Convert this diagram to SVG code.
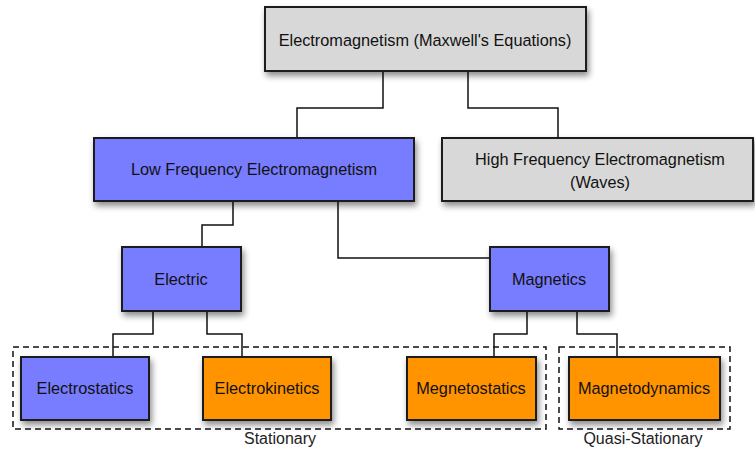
<svg xmlns="http://www.w3.org/2000/svg" width="755" height="450" viewBox="0 0 755 450">
<defs>
<filter id="sh" x="-20%" y="-20%" width="150%" height="160%">
<feDropShadow dx="2" dy="4" stdDeviation="3" flood-color="#000" flood-opacity="0.45"/>
</filter>
</defs>
<style>
.box{stroke:#1a1a1a;stroke-width:2;filter:url(#sh)}
.gray{fill:#d8d8d8}
.blue{fill:#787cfe}
.orange{fill:#ff9400}
.t{font-family:"Liberation Sans",Arial,sans-serif;font-size:16.3px;fill:#111;text-anchor:middle}
.lbl{font-family:"Liberation Sans",Arial,sans-serif;font-size:16px;fill:#222;text-anchor:middle}
.con{fill:none;stroke:#111;stroke-width:1.5}
.dash{fill:none;stroke:#111;stroke-width:1.5;stroke-dasharray:6 4}
</style>
<rect width="755" height="450" fill="#fff"/>
<g id="groups">
<rect class="dash" x="13" y="347" width="533" height="82"/>
<text class="lbl" x="280" y="444">Stationary</text>
<rect class="dash" x="559" y="347" width="171" height="82"/>
<text class="lbl" x="643" y="444">Quasi-Stationary</text>
</g>
<g id="connectors">
<polyline class="con" points="383,71 383,108 297,108 297,138"/>
<polyline class="con" points="468,71 468,108 558,108 558,138"/>
<polyline class="con" points="233,201 233,225 202,225 202,247"/>
<polyline class="con" points="338,201 338,258 490,258"/>
<polyline class="con" points="153,311 153,334 113,334 113,357"/>
<polyline class="con" points="207,311 207,334 242,334 242,357"/>
<polyline class="con" points="527,311 527,334 494,334 494,357"/>
<polyline class="con" points="577,311 577,334 617,334 617,357"/>
</g>
<g id="em">
<rect class="box gray" x="265" y="7" width="321" height="64"/>
<text class="t" x="425" y="46">Electromagnetism (Maxwell's Equations)</text>
</g>
<g id="lowfreq">
<rect class="box blue" x="94" y="138" width="320" height="63"/>
<text class="t" x="254" y="175">Low Frequency Electromagnetism</text>
</g>
<g id="highfreq">
<rect class="box gray" x="442" y="138" width="311" height="63"/>
<text class="t" x="600" y="165">High Frequency Electromagnetism</text>
<text class="t" x="600" y="188">(Waves)</text>
</g>
<g id="electric">
<rect class="box blue" x="122" y="247" width="119" height="64"/>
<text class="t" x="181" y="285">Electric</text>
</g>
<g id="magnetics">
<rect class="box blue" x="490" y="247" width="119" height="64"/>
<text class="t" x="549" y="285">Magnetics</text>
</g>
<g id="electrostatics">
<rect class="box blue" x="21" y="357" width="128" height="63"/>
<text class="t" x="85" y="394">Electrostatics</text>
</g>
<g id="electrokinetics">
<rect class="box orange" x="203" y="357" width="128" height="63"/>
<text class="t" x="267" y="394">Electrokinetics</text>
</g>
<g id="megnetostatics">
<rect class="box orange" x="407" y="357" width="129" height="63"/>
<text class="t" x="471" y="394">Megnetostatics</text>
</g>
<g id="magnetodynamics">
<rect class="box orange" x="569" y="357" width="151" height="63"/>
<text class="t" x="644" y="394">Magnetodynamics</text>
</g>
</svg>
